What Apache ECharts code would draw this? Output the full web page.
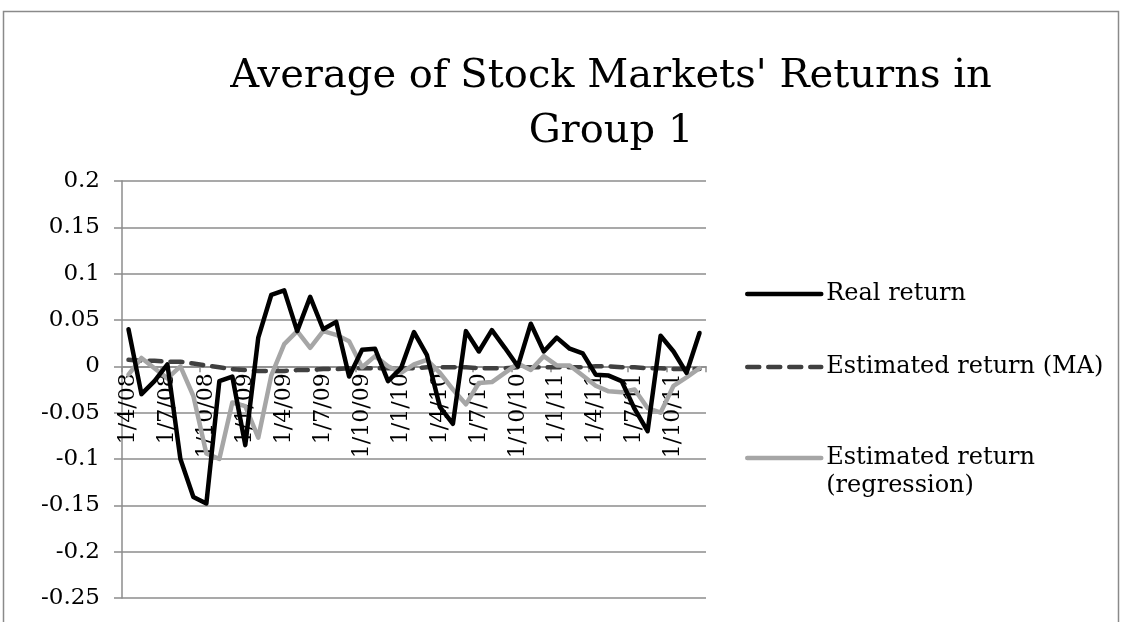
<!DOCTYPE html>
<html>
<head>
<meta charset="utf-8">
<script src="https://cdn.jsdelivr.net/npm/echarts@6/dist/echarts.min.js"></script>
<style>
  html, body { margin: 0; padding: 0; background: #fff; }
  #chart { width: 1122px; height: 622px; }
</style>
</head>
<body>
<div id="chart"></div>
<script>
const categories = [
  '1/4/08','1/5/08','1/6/08','1/7/08','1/8/08','1/9/08','1/10/08','1/11/08','1/12/08',
  '1/1/09','1/2/09','1/3/09','1/4/09','1/5/09','1/6/09','1/7/09','1/8/09','1/9/09','1/10/09','1/11/09','1/12/09',
  '1/1/10','1/2/10','1/3/10','1/4/10','1/5/10','1/6/10','1/7/10','1/8/10','1/9/10','1/10/10','1/11/10','1/12/10',
  '1/1/11','1/2/11','1/3/11','1/4/11','1/5/11','1/6/11','1/7/11','1/8/11','1/9/11','1/10/11','1/11/11','1/12/11'
];

const realReturn = [
  0.040, -0.030, -0.016, 0.002, -0.100, -0.141, -0.148, -0.016, -0.011, -0.085,
  0.031, 0.077, 0.082, 0.038, 0.075, 0.040, 0.048, -0.011, 0.018, 0.019,
  -0.016, -0.002, 0.037, 0.012, -0.044, -0.062, 0.038, 0.016, 0.039, 0.020,
  0.000, 0.046, 0.016, 0.031, 0.019, 0.014, -0.009, -0.010, -0.016, -0.046,
  -0.070, 0.033, 0.016, -0.007, 0.036
];

const estimatedMA = [
  0.007, 0.006, 0.006, 0.005, 0.005, 0.003, 0.001, -0.001, -0.003, -0.004,
  -0.005, -0.005, -0.005, -0.004, -0.004, -0.003, -0.003, -0.002, -0.002, -0.002,
  -0.002, -0.002, -0.002, -0.001, -0.001, -0.001, -0.001, -0.002, -0.002, -0.002,
  -0.001, -0.001, -0.001, -0.001, -0.001, -0.001, 0.000, 0.000, -0.001, -0.001,
  -0.002, -0.002, -0.003, -0.003, -0.003
];

const estimatedRegression = [
  -0.009, 0.009, -0.002, -0.013, 0.000, -0.032, -0.094, -0.100, -0.039, -0.043,
  -0.077, -0.010, 0.024, 0.038, 0.020, 0.038, 0.034, 0.027, -0.001, 0.011,
  0.000, -0.007, 0.002, 0.007, -0.007, -0.025, -0.041, -0.018, -0.017, -0.007,
  0.003, -0.004, 0.011, 0.001, 0.001, -0.010, -0.021, -0.027, -0.028, -0.025,
  -0.045, -0.050, -0.021, -0.012, -0.002
];

const seriesNames = ['Real return', 'Estimated return (MA)', 'Estimated return (regression)'];
const titleText = "Average of Stock Markets' Returns in\nGroup 1";

const Y_MIN = -0.25, Y_MAX = 0.2, Y_STEP = 0.05;

const FONT = "'DejaVu Serif', 'Liberation Serif', serif";
const GRID_COLOR = '#8c8c8c';

const W = 1122, H = 622;
const GRID = { left: 122, right: 416, top: 181, bottom: 24 };
const plotH = H - GRID.top - GRID.bottom;
// move the category axis up to the value 0 of the value axis
const zeroOffset = -plotH * (0 - Y_MIN) / (Y_MAX - Y_MIN);

const chart = echarts.init(document.getElementById('chart'), null, { renderer: 'canvas', width: W, height: H });

const legendBase = {
  orient: 'vertical',
  left: 745,
  padding: 0,
  itemWidth: 74,
  itemHeight: 14,
  itemGap: 0,
  textStyle: { fontFamily: FONT, fontSize: 24, color: '#000', lineHeight: 28 },
  itemStyle: { opacity: 0, borderWidth: 0 },
  lineStyle: { width: 4.5 },
  selectedMode: false
};

chart.setOption({
  animation: false,
  backgroundColor: '#fff',
  title: {
    text: titleText,
    left: 606,
    top: 44,
    textAlign: 'center',
    textStyle: { fontFamily: FONT, fontSize: 40, fontWeight: 'normal', color: '#000', lineHeight: 55 }
  },
  graphic: [{
    type: 'rect',
    shape: { x: 3.5, y: 11.5, width: 1115, height: 700 },
    style: { fill: 'none', stroke: '#8a8a8a', lineWidth: 1.5 },
    silent: true
  }],
  legend: [
    Object.assign({}, legendBase, { top: 280, data: [seriesNames[0]] }),
    Object.assign({}, legendBase, { top: 353, data: [seriesNames[1]] }),
    Object.assign({}, legendBase, {
      top: 416,
      data: [seriesNames[2]],
      formatter: function () { return ' \nEstimated return\n(regression)'; }
    })
  ],
  grid: Object.assign({ containLabel: false, outerBoundsMode: 'none' }, GRID),
  xAxis: {
    type: 'category',
    data: categories,
    boundaryGap: true,
    position: 'bottom',
    offset: zeroOffset,
    axisLine: { show: true, onZero: false, lineStyle: { color: GRID_COLOR, width: 1.5 } },
    axisTick: { show: true, interval: 2, length: 6, inside: false, lineStyle: { color: GRID_COLOR, width: 1.5 } },
    axisLabel: {
      interval: 2,
      rotate: 90,
      margin: 7,
      fontFamily: FONT,
      fontSize: 22,
      color: '#000'
    },
    splitLine: { show: false }
  },
  yAxis: {
    type: 'value',
    min: Y_MIN,
    max: Y_MAX,
    interval: Y_STEP,
    axisLine: { show: true, lineStyle: { color: GRID_COLOR, width: 1.5 } },
    axisTick: { show: true, length: 8, inside: false, lineStyle: { color: GRID_COLOR, width: 1.5 } },
    axisLabel: {
      margin: 22,
      fontFamily: FONT,
      fontSize: 23,
      color: '#000',
      formatter: function (v) { return String(Math.round(v * 100) / 100); }
    },
    splitLine: { show: true, lineStyle: { color: GRID_COLOR, width: 1.5 } }
  },
  series: [
    {
      name: seriesNames[0],
      type: 'line',
      data: realReturn,
      symbol: 'none',
      z: 4,
      lineStyle: { color: '#000000', width: 4.5, cap: 'round', join: 'round' },
      itemStyle: { color: '#000000' }
    },
    {
      name: seriesNames[1],
      type: 'line',
      data: estimatedMA,
      symbol: 'none',
      z: 3,
      lineStyle: { color: '#404040', width: 4.5, type: [12, 9], cap: 'round', join: 'round' },
      itemStyle: { color: '#404040' }
    },
    {
      name: seriesNames[2],
      type: 'line',
      data: estimatedRegression,
      symbol: 'none',
      z: 3,
      lineStyle: { color: '#a6a6a6', width: 4.5, cap: 'round', join: 'round' },
      itemStyle: { color: '#a6a6a6' }
    }
  ]
});
</script>
</body>
</html>
